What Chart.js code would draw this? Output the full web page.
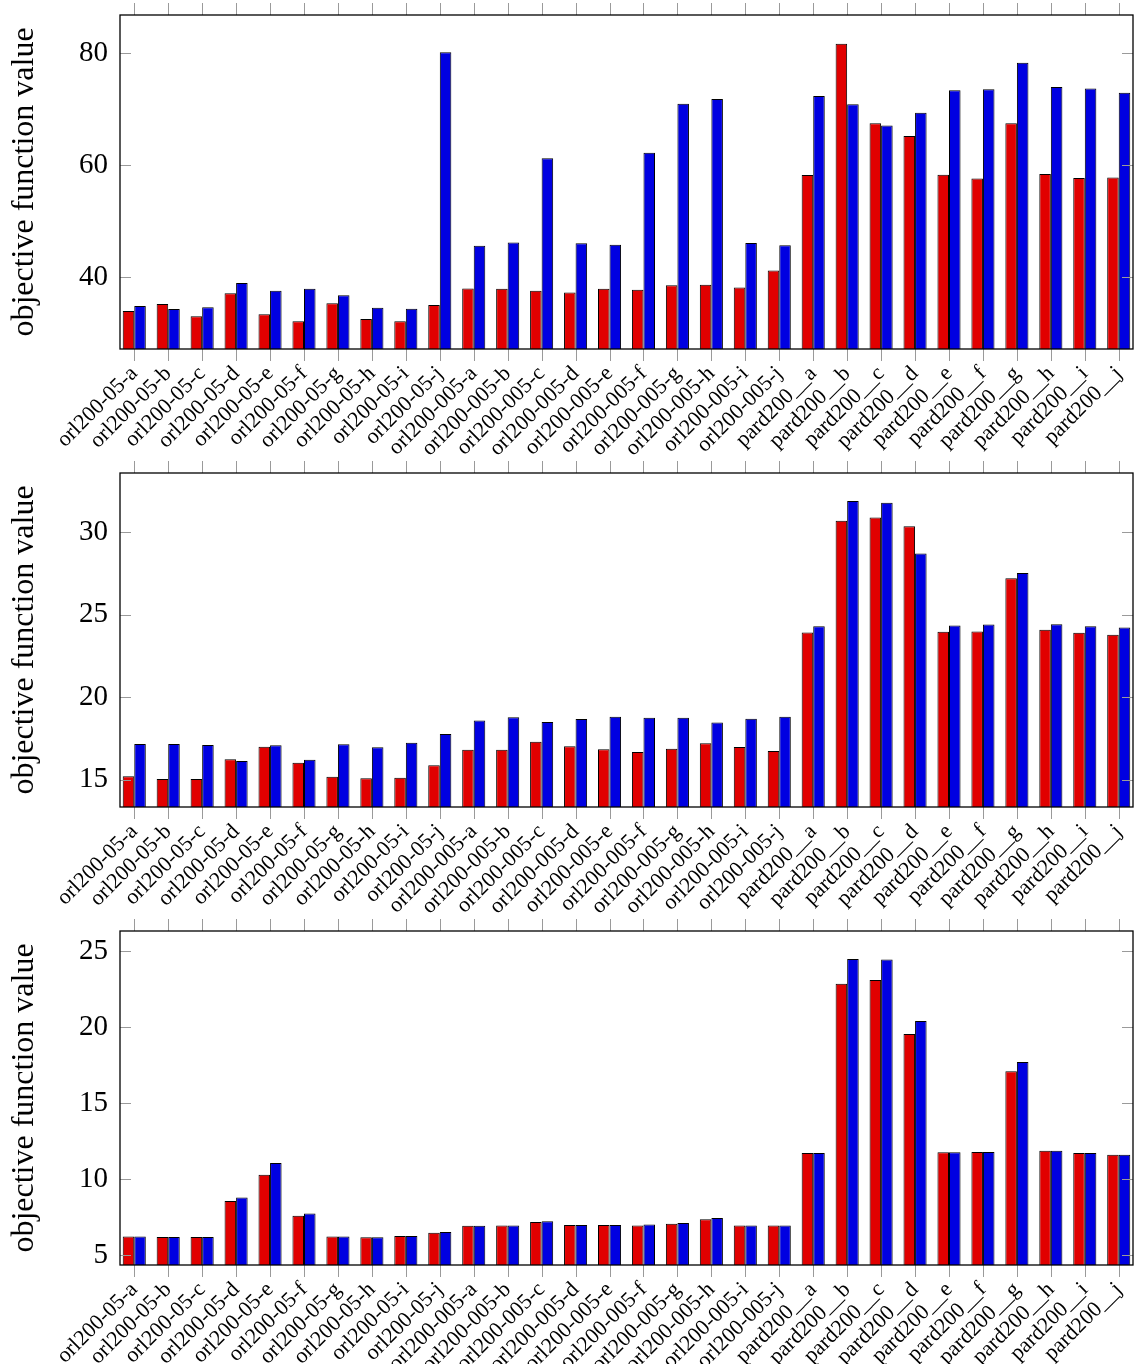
<!DOCTYPE html>
<html>
<head>
<meta charset="utf-8">
<script src="https://cdn.jsdelivr.net/npm/chart.js@4.4.1/dist/chart.umd.min.js"></script>
<style>
  html, body { margin: 0; padding: 0; background: #fff; overflow: hidden; }
  #wrap { position: relative; width: 1134px; height: 1364px; }
  canvas { position: absolute; left: 0; }
</style>
</head>
<body>
<div id="wrap">
  <canvas id="chartTop" width="1134" height="458" style="top:0px"></canvas>
  <canvas id="chartMid" width="1134" height="458" style="top:458px"></canvas>
  <canvas id="chartBot" width="1134" height="448" style="top:916px"></canvas>
</div>
<script>
const categories = [
  "orl200-05-a", "orl200-05-b", "orl200-05-c", "orl200-05-d", "orl200-05-e",
  "orl200-05-f", "orl200-05-g", "orl200-05-h", "orl200-05-i", "orl200-05-j",
  "orl200-005-a", "orl200-005-b", "orl200-005-c", "orl200-005-d", "orl200-005-e",
  "orl200-005-f", "orl200-005-g", "orl200-005-h", "orl200-005-i", "orl200-005-j",
  "pard200__a", "pard200__b", "pard200__c", "pard200__d", "pard200__e",
  "pard200__f", "pard200__g", "pard200__h", "pard200__i", "pard200__j"
];

// top panel
const topRed = [34.0, 35.25, 33.1, 37.2, 33.46, 32.2, 35.4, 32.6, 32.2, 35.1,
  38.04, 37.98, 37.62, 37.3, 38.0, 37.8, 38.6, 38.7, 38.2, 41.25,
  58.3, 81.7, 67.5, 65.25, 58.35, 57.65, 67.5, 58.45, 57.75, 57.85];
const topBlue = [34.9, 34.36, 34.7, 39.0, 37.62, 37.98, 36.85, 34.6, 34.4, 80.17,
  45.64, 46.24, 61.27, 46.1, 45.85, 62.25, 71.0, 71.85, 46.13, 45.77,
  72.4, 70.9, 67.1, 69.4, 73.4, 73.6, 78.3, 74.0, 73.7, 72.95];
const topTicks = { min: 27.24, max: 86.83, step: 20 };

// middle panel
const midRed = [15.2, 15.04, 15.04, 16.23, 17.0, 16.03, 15.18, 15.08, 15.12, 15.87,
  16.82, 16.82, 17.3, 17.02, 16.84, 16.68, 16.88, 17.2, 16.98, 16.74,
  23.93, 30.7, 30.9, 30.37, 23.97, 23.99, 27.22, 24.09, 23.91, 23.79];
const midBlue = [17.16, 17.16, 17.1, 16.13, 17.08, 16.21, 17.14, 16.96, 17.24, 17.77,
  18.58, 18.78, 18.5, 18.68, 18.82, 18.76, 18.76, 18.47, 18.7, 18.82,
  24.31, 31.9, 31.79, 28.72, 24.35, 24.41, 27.53, 24.43, 24.31, 24.23];
const midTicks = { min: 13.34, max: 33.6, step: 5 };

// bottom panel
const botRed = [6.21, 6.19, 6.19, 8.56, 10.29, 7.59, 6.21, 6.16, 6.25, 6.47,
  6.93, 6.95, 7.17, 6.97, 6.98, 6.95, 7.06, 7.35, 6.95, 6.95,
  11.72, 22.87, 23.11, 19.56, 11.76, 11.78, 17.1, 11.87, 11.72, 11.61];
const botBlue = [6.21, 6.19, 6.19, 8.78, 11.06, 7.74, 6.21, 6.16, 6.25, 6.51,
  6.93, 6.95, 7.22, 6.97, 6.98, 7.0, 7.1, 7.44, 6.95, 6.95,
  11.72, 24.5, 24.47, 20.41, 11.76, 11.78, 17.71, 11.87, 11.72, 11.61];
const botTicks = { min: 4.34, max: 26.34, step: 5 };

const FONT = "'Liberation Serif', 'Times New Roman', serif";
const RED = "rgb(225,0,0)";
const BLUE = "rgb(0,0,225)";

// pgfplots-style frame: box all round, x ticks outside, y ticks inside
const pgfAxis = {
  id: "pgfAxis",
  afterDraw(chart) {
    const { ctx, chartArea: a, scales } = chart;
    ctx.save();
    ctx.strokeStyle = "#9a9a9a";
    ctx.lineWidth = 1;
    ctx.beginPath();
    categories.forEach((_, i) => {
      const x = Math.round(scales.x.getPixelForValue(i)) + 0.5;
      ctx.moveTo(x, a.top - 12); ctx.lineTo(x, a.top);
      ctx.moveTo(x, a.bottom); ctx.lineTo(x, a.bottom + 12);
    });
    scales.y.ticks.forEach(t => {
      const y = Math.round(scales.y.getPixelForValue(t.value)) + 0.5;
      ctx.moveTo(a.left, y); ctx.lineTo(a.left + 11, y);
      ctx.moveTo(a.right - 11, y); ctx.lineTo(a.right, y);
    });
    ctx.stroke();

    ctx.strokeStyle = "#000";
    ctx.lineWidth = 1.3;
    ctx.strokeRect(a.left, a.top, a.right - a.left, a.bottom - a.top);
    ctx.restore();
  }
};

function toPoints(values) {
  return values.map((v, i) => ({ x: i, y: v }));
}

function buildChart(canvasId, red, blue, range) {
  const canvas = document.getElementById(canvasId);
  const xHeight = canvas.height - 15 - 334;

  return new Chart(canvas.getContext("2d"), {
    type: "bar",
    data: {
      datasets: [
        { data: toPoints(red), backgroundColor: RED },
        { data: toPoints(blue), backgroundColor: BLUE }
      ].map(ds => Object.assign(ds, {
        borderColor: "#000",
        borderWidth: 1,
        categoryPercentage: 0.68,
        barPercentage: 1
      }))
    },
    options: {
      responsive: false,
      animation: false,
      devicePixelRatio: 1,
      layout: { padding: { top: 15, right: 1, left: 0, bottom: 0 } },
      plugins: { legend: { display: false }, tooltip: { enabled: false } },
      scales: {
        x: {
          type: "linear",
          offset: false,
          min: -0.42,
          max: 29.42,
          grid: { display: false, offset: false },
          border: { display: false },
          ticks: {
            stepSize: 1,
            autoSkip: false,
            includeBounds: false,
            minRotation: 45,
            maxRotation: 45,
            padding: 4,
            color: "#000",
            font: { family: FONT, size: 22 },
            callback: v => categories[v] ?? ""
          },
          afterFit: s => {
            s.height = xHeight;
            s.paddingLeft = 0;
            s.paddingRight = 0;
          }
        },
        y: {
          min: range.min,
          max: range.max,
          grid: { display: false },
          border: { display: false },
          ticks: {
            stepSize: range.step,
            includeBounds: false,
            padding: 4,
            color: "#000",
            font: { family: FONT, size: 29 }
          },
          title: {
            display: true,
            text: "objective function value",
            color: "#000",
            font: { family: FONT, size: 32, lineHeight: 1 },
            padding: { top: 9, bottom: 0 }
          },
          afterFit: s => {
            s.width = 120;
            s.paddingTop = 0;
            s.paddingBottom = 0;
          }
        }
      }
    },
    plugins: [pgfAxis]
  });
}

buildChart("chartTop", topRed, topBlue, topTicks);
buildChart("chartMid", midRed, midBlue, midTicks);
buildChart("chartBot", botRed, botBlue, botTicks);
</script>
</body>
</html>
